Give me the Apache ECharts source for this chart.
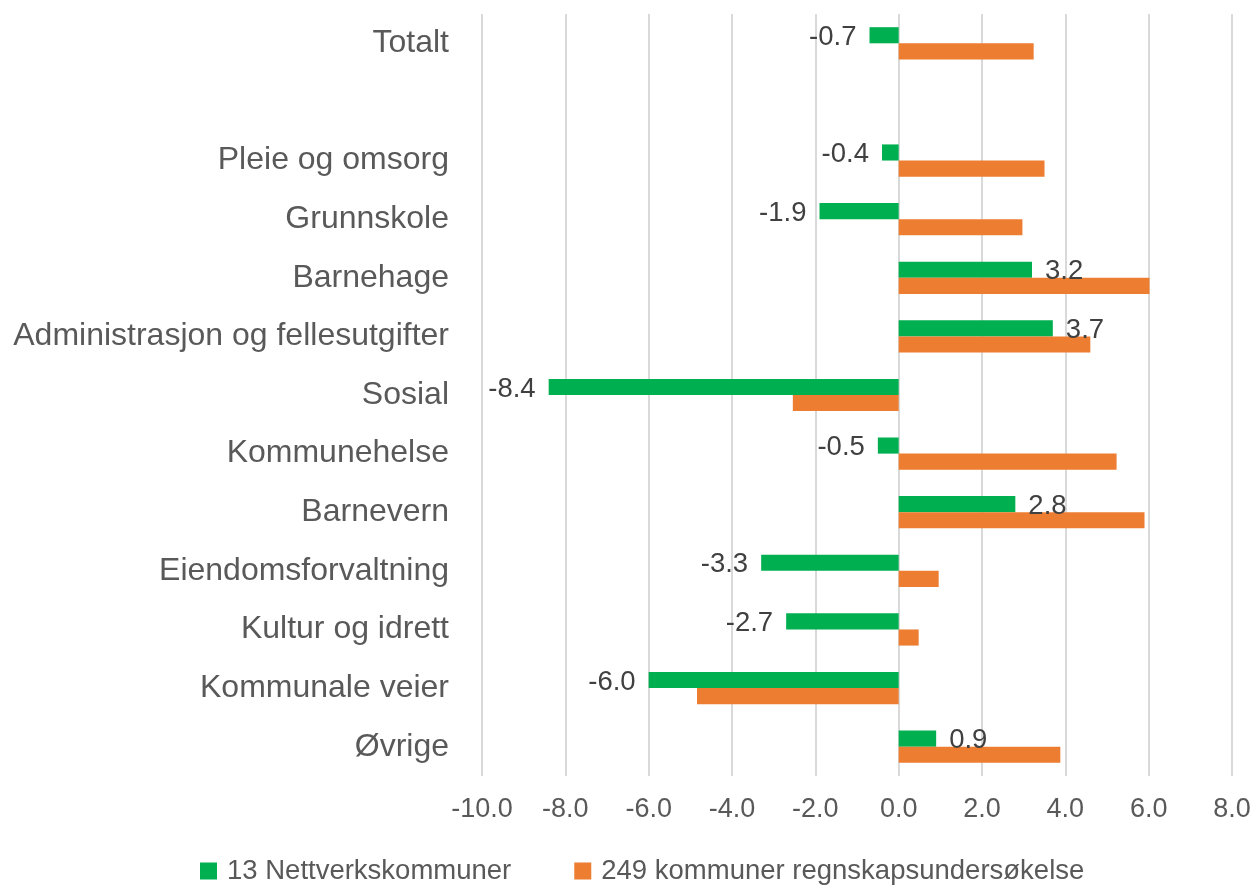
<!DOCTYPE html>
<html><head><meta charset="utf-8">
<script src="https://cdn.jsdelivr.net/npm/echarts@6/dist/echarts.min.js"></script>
<style>html,body{margin:0;padding:0;background:#fff}#c{width:1256px;height:887px}</style>
</head><body><div id="c"></div>
<script>
const categories = ["Totalt", "", "Pleie og omsorg", "Grunnskole", "Barnehage", "Administrasjon og fellesutgifter", "Sosial", "Kommunehelse", "Barnevern", "Eiendomsforvaltning", "Kultur og idrett", "Kommunale veier", "Øvrige"];
const seriesNames = ["13 Nettverkskommuner", "249 kommuner regnskapsundersøkelse"];
const netverk = [-0.7, null, -0.4, -1.9, 3.2, 3.7, -8.4, -0.5, 2.8, -3.3, -2.7, -6.0, 0.9];
const kommuner = [3.24, null, 3.5, 2.97, 6.02, 4.6, -2.54, 5.23, 5.9, 0.96, 0.48, -4.84, 3.88];
const xTicks = {min: -10, max: 8, interval: 2};

const font = '"Liberation Sans", sans-serif';
const chart = echarts.init(document.getElementById('c'), null, {renderer: 'canvas'});
chart.setOption({
  animation: false,
  grid: {left: 482, right: 24, top: 14, bottom: 111, containLabel: false},
  legend: {
    top: 857, left: 200, padding: 0, itemWidth: 17, itemHeight: 17, itemGap: 63, icon: 'rect',
    textStyle: {fontSize: 27.5, color: '#595959', fontFamily: font, padding: [0, 0, 0, 5]},
    data: seriesNames
  },
  xAxis: {
    type: 'value', min: xTicks.min, max: xTicks.max, interval: xTicks.interval,
    axisLine: {show: false}, axisTick: {show: false},
    splitLine: {show: true, lineStyle: {color: '#d9d9d9', width: 2}},
    axisLabel: {fontSize: 27, color: '#595959', fontFamily: font, margin: 20,
      formatter: v => v.toFixed(1)}
  },
  yAxis: {
    type: 'category', data: categories, inverse: true,
    axisLine: {show: false}, axisTick: {show: false},
    axisLabel: {fontSize: 32, color: '#595959', fontFamily: font, margin: 33, padding: [4, 0, 0, 0]}
  },
  series: [
    {
      name: seriesNames[0], type: 'bar', barGap: '0%', barCategoryGap: '45%',
      itemStyle: {color: '#00b050'},
      data: netverk.map(v => v === null ? null : {value: v, label: {position: v < 0 ? 'left' : 'right'}}),
      label: {show: true, fontSize: 27.5, color: '#404040', fontFamily: font, distance: 13, offset: [0, 2],
        formatter: p => p.value.toFixed(1)}
    },
    {
      name: seriesNames[1], type: 'bar', barGap: '0%', barCategoryGap: '45%',
      itemStyle: {color: '#ed7d31'},
      data: kommuner
    }
  ]
});
</script></body></html>
